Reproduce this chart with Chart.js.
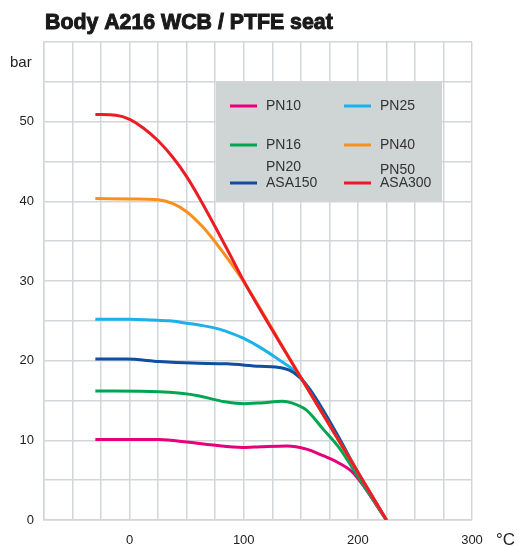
<!DOCTYPE html>
<html>
<head>
<meta charset="utf-8">
<script src="https://cdn.jsdelivr.net/npm/chart.js@4/dist/chart.umd.min.js"></script>
<style>
  html, body { margin: 0; padding: 0; background: #fff; }
</style>
</head>
<body>
<canvas id="stage" width="520" height="547"></canvas>
<script>
// temperatures (°C) and pressures (bar)
const pn50Temp = [-30, -12, 0, 12, 25, 38, 50, 62, 75, 88, 100, 150, 200, 225];
const pn50Bar  = [50.9, 50.8, 50.3, 49.2, 47.6, 45.5, 43.1, 40.2, 36.8, 33.3, 30.0, 17.9, 6.0, 0];

const pn40Temp = [-30, 0, 25, 38, 50, 64, 75, 88, 100, 150, 200, 225];
const pn40Bar  = [40.35, 40.3, 40.2, 39.7, 38.7, 36.8, 34.9, 32.4, 29.9, 17.9, 6.0, 0];

const pn25Temp = [-30, 0, 20, 35, 50, 64, 80, 90, 100, 114, 131, 149, 165, 200, 225];
const pn25Bar  = [25.2, 25.2, 25.1, 25.0, 24.7, 24.4, 23.9, 23.4, 22.8, 21.7, 20.1, 18.1, 14.3, 6.0, 0];

const pn20Temp = [-30, -3, 26, 55, 85, 114, 128, 140, 149, 158, 167, 182, 200, 225];
const pn20Bar  = [20.2, 20.2, 19.9, 19.7, 19.6, 19.3, 19.2, 18.8, 17.9, 16.4, 14.4, 10.7, 6.0, 0];

const pn16Temp = [-30, 26, 45, 60, 72, 85, 100, 115, 134, 142, 155, 169, 184, 199, 225];
const pn16Bar  = [16.2, 16.1, 15.9, 15.6, 15.2, 14.8, 14.6, 14.7, 14.9, 14.7, 13.8, 11.5, 9.0, 5.7, 0];

const pn10Temp = [-30, 26, 50, 73, 99, 115, 138, 155, 169, 184, 196, 225];
const pn10Bar  = [10.1, 10.1, 9.8, 9.4, 9.1, 9.2, 9.3, 8.9, 8.1, 7.1, 5.9, 0];

const xLabels = [0, 100, 200, 300];
const yLabels = [0, 10, 20, 30, 40, 50];

function points(temps, bars) {
  return temps.map((t, i) => ({ x: t, y: bars[i] }));
}

// red on top, drawn first in list
const seriesList = [
  { label: 'PN50 ASA300', temps: pn50Temp, bars: pn50Bar, color: '#ec1c24' },
  { label: 'PN40', temps: pn40Temp, bars: pn40Bar, color: '#f7901e' },
  { label: 'PN20 ASA150', temps: pn20Temp, bars: pn20Bar, color: '#0e4f9f' },
  { label: 'PN25', temps: pn25Temp, bars: pn25Bar, color: '#1cb1eb' },
  { label: 'PN16', temps: pn16Temp, bars: pn16Bar, color: '#00a651' },
  { label: 'PN10', temps: pn10Temp, bars: pn10Bar, color: '#e5007d' }
];

const legendItems = [
  { text: ['PN10'], color: '#e5007d', col: 0, y: 106 },
  { text: ['PN25'], color: '#1cb1eb', col: 1, y: 106 },
  { text: ['PN16'], color: '#00a651', col: 0, y: 145 },
  { text: ['PN40'], color: '#f7901e', col: 1, y: 145 },
  { text: ['PN20', 'ASA150'], color: '#0e4f9f', col: 0, y: 183 },
  { text: ['PN50', 'ASA300'], color: '#ec1c24', col: 1, y: 183 }
];

const gridColor = '#d3d6d8';
const labelFont = '"Liberation Sans", Arial, sans-serif';

const decorations = {
  id: 'decorations',
  afterDraw(chart) {
    const ctx = chart.ctx;
    ctx.save();
    // title
    let size = 20;
    ctx.font = 'bold ' + size + 'px ' + labelFont;
    const w = ctx.measureText('Body A216 WCB / PTFE seat').width;
    size = size * 288 / w;
    ctx.font = 'bold ' + size + 'px ' + labelFont;
    ctx.fillStyle = '#1a1a1a';
    ctx.strokeStyle = '#1a1a1a';
    ctx.lineWidth = 1;
    ctx.textBaseline = 'alphabetic';
    ctx.textAlign = 'left';
    ctx.fillText('Body A216 WCB / PTFE seat', 45, 29);
    ctx.strokeText('Body A216 WCB / PTFE seat', 45, 29);

    // axis unit labels
    ctx.fillStyle = '#222';
    ctx.textBaseline = 'middle';
    ctx.font = '15px ' + labelFont;
    ctx.textAlign = 'left';
    ctx.fillText('bar', 10, 63);
    ctx.font = '17px ' + labelFont;
    ctx.fillText('°C', 496, 540);

    // legend box
    ctx.fillStyle = '#cfd4d4';
    ctx.fillRect(216, 82, 226, 119);
    ctx.font = '14px ' + labelFont;
    legendItems.forEach(item => {
      const lx = item.col === 0 ? 230 : 344;
      ctx.strokeStyle = item.color;
      ctx.lineWidth = 3;
      ctx.beginPath();
      ctx.moveTo(lx, item.y);
      ctx.lineTo(lx + 27, item.y);
      ctx.stroke();
      ctx.fillStyle = '#333';
      if (item.text.length === 1) {
        ctx.fillText(item.text[0], lx + 36, item.y);
      } else {
        const top = item.col === 0 ? 167 : 170;
        ctx.fillText(item.text[0], lx + 36, top);
        ctx.fillText(item.text[1], lx + 36, item.y);
      }
    });
    ctx.restore();
  }
};

const chart = new Chart(document.getElementById('stage'), {
  type: 'line',
  data: {
    datasets: seriesList.map(s => ({
      label: s.label,
      data: points(s.temps, s.bars),
      borderColor: s.color,
      backgroundColor: s.color,
      borderWidth: 3,
      pointRadius: 0,
      cubicInterpolationMode: 'monotone',
      fill: false
    }))
  },
  options: {
    responsive: false,
    animation: false,
    layout: { padding: { top: 42, right: 48, left: 0, bottom: 0 } },
    plugins: {
      legend: { display: false },
      title: { display: false },
      tooltip: { enabled: false }
    },
    scales: {
      x: {
        type: 'linear',
        min: -75,
        max: 300,
        afterFit: (axis) => { axis.height = 27; },
        grid: { color: gridColor, lineWidth: 1.5, drawTicks: false },
        border: { color: gridColor, width: 1.5 },
        ticks: {
          stepSize: 25,
          padding: 13,
          color: '#222',
          font: { family: labelFont, size: 13 },
          maxRotation: 0,
          autoSkip: false,
          callback: (v) => xLabels.includes(v) ? String(v) : ''
        }
      },
      y: {
        min: 0,
        max: 60,
        afterFit: (axis) => { axis.width = 44; },
        grid: { color: gridColor, lineWidth: 1.5, drawTicks: false },
        border: { color: gridColor, width: 1.5 },
        ticks: {
          stepSize: 5,
          padding: 10,
          color: '#222',
          font: { family: labelFont, size: 13 },
          autoSkip: false,
          callback: (v) => yLabels.includes(v) ? String(v) : ''
        }
      }
    }
  },
  plugins: [decorations]
});
</script>
</body>
</html>
